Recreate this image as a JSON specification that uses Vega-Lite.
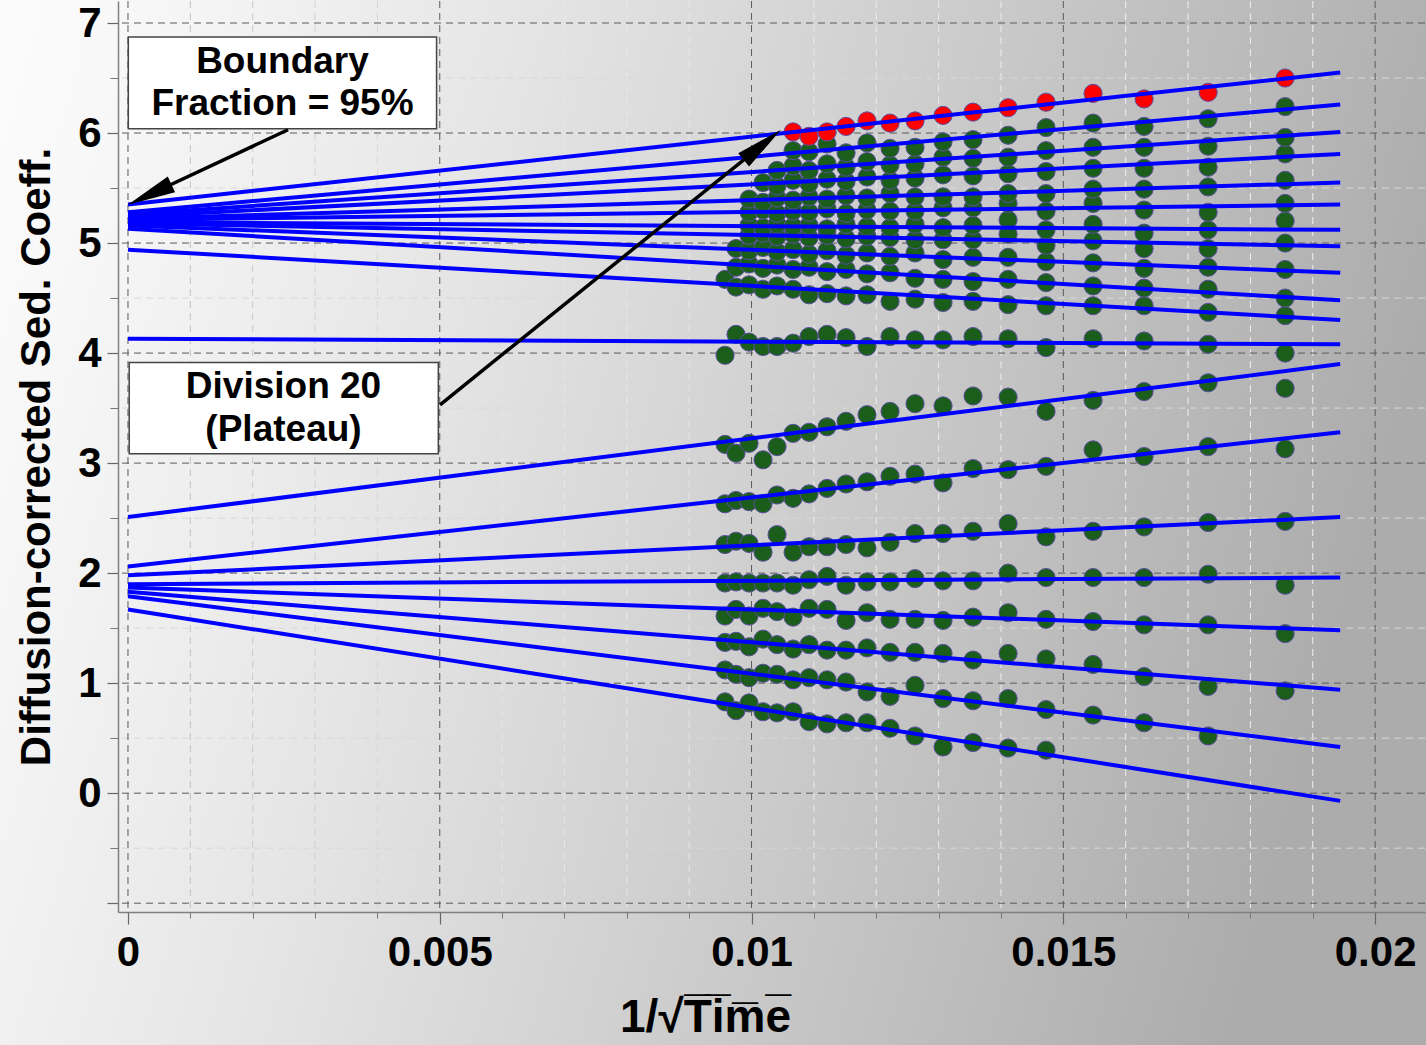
{
  "$schema": "https://vega.github.io/schema/vega-lite/v6.json",
  "width": 1307,
  "height": 911,
  "autosize": {"type": "none"},
  "padding": {"left": 118, "top": 1, "right": 1, "bottom": 133},
  "background": "#e0e0e0",
  "config": {"view": {"stroke": null}, "font": "Liberation Sans"},
  "datasets": {
    "xminor": [{"v":0.001},{"v":0.002},{"v":0.003},{"v":0.004},{"v":0.006},{"v":0.007},{"v":0.008},{"v":0.009},{"v":0.011},{"v":0.012},{"v":0.013},{"v":0.014},{"v":0.016},{"v":0.017},{"v":0.018},{"v":0.019}],
    "xmajor": [{"v":0},{"v":0.005},{"v":0.01},{"v":0.015},{"v":0.02}],
    "yminor": [{"v":-0.5},{"v":0.5},{"v":1.5},{"v":2.5},{"v":3.5},{"v":4.5},{"v":5.5},{"v":6.5}],
    "ymajor": [{"v":-1},{"v":0},{"v":1},{"v":2},{"v":3},{"v":4},{"v":5},{"v":6},{"v":7}],
    "fits": [
      {"d":1,"x":0,"s":1.67},{"d":1,"x":0.01944,"s":-0.07},
      {"d":2,"x":0,"s":1.79},{"d":2,"x":0.01944,"s":0.42},
      {"d":3,"x":0,"s":1.83},{"d":3,"x":0.01944,"s":0.94},
      {"d":4,"x":0,"s":1.87},{"d":4,"x":0.01944,"s":1.48},
      {"d":5,"x":0,"s":1.90},{"d":5,"x":0.01944,"s":1.96},
      {"d":6,"x":0,"s":1.98},{"d":6,"x":0.01944,"s":2.51},
      {"d":7,"x":0,"s":2.06},{"d":7,"x":0.01944,"s":3.28},
      {"d":8,"x":0,"s":2.51},{"d":8,"x":0.01944,"s":3.90},
      {"d":9,"x":0,"s":4.13},{"d":9,"x":0.01944,"s":4.08},
      {"d":10,"x":0,"s":4.94},{"d":10,"x":0.01944,"s":4.30},
      {"d":11,"x":0,"s":5.13},{"d":11,"x":0.01944,"s":4.48},
      {"d":12,"x":0,"s":5.16},{"d":12,"x":0.01944,"s":4.73},
      {"d":13,"x":0,"s":5.18},{"d":13,"x":0.01944,"s":4.97},
      {"d":14,"x":0,"s":5.19},{"d":14,"x":0.01944,"s":5.12},
      {"d":15,"x":0,"s":5.21},{"d":15,"x":0.01944,"s":5.35},
      {"d":16,"x":0,"s":5.22},{"d":16,"x":0.01944,"s":5.55},
      {"d":17,"x":0,"s":5.24},{"d":17,"x":0.01944,"s":5.81},
      {"d":18,"x":0,"s":5.26},{"d":18,"x":0.01944,"s":6.01},
      {"d":19,"x":0,"s":5.28},{"d":19,"x":0.01944,"s":6.26},
      {"d":20,"x":0,"s":5.35},{"d":20,"x":0.01944,"s":6.55}
    ],
    "pts": [
      {"x":0.009575,"s":0.83,"d":1},{"x":0.009751,"s":0.75,"d":1},{"x":0.00996,"s":0.82,"d":1},{"x":0.010184,"s":0.74,"d":1},{"x":0.010409,"s":0.73,"d":1},{"x":0.010666,"s":0.74,"d":1},{"x":0.010922,"s":0.65,"d":1},{"x":0.011211,"s":0.63,"d":1},{"x":0.011516,"s":0.64,"d":1},{"x":0.011852,"s":0.64,"d":1},{"x":0.012221,"s":0.59,"d":1},{"x":0.012622,"s":0.52,"d":1},{"x":0.013071,"s":0.42,"d":1},{"x":0.013552,"s":0.46,"d":1},{"x":0.014114,"s":0.41,"d":1},{"x":0.014723,"s":0.39,"d":1},
      {"x":0.009575,"s":1.12,"d":2},{"x":0.009751,"s":1.08,"d":2},{"x":0.00996,"s":1.05,"d":2},{"x":0.010184,"s":1.09,"d":2},{"x":0.010409,"s":1.08,"d":2},{"x":0.010666,"s":1.03,"d":2},{"x":0.010922,"s":1.05,"d":2},{"x":0.011211,"s":1.03,"d":2},{"x":0.011516,"s":1.01,"d":2},{"x":0.011852,"s":0.92,"d":2},{"x":0.012221,"s":0.88,"d":2},{"x":0.012622,"s":0.98,"d":2},{"x":0.013071,"s":0.86,"d":2},{"x":0.013552,"s":0.84,"d":2},{"x":0.014114,"s":0.86,"d":2},{"x":0.014723,"s":0.76,"d":2},{"x":0.015477,"s":0.71,"d":2},{"x":0.016295,"s":0.64,"d":2},{"x":0.017322,"s":0.52,"d":2},
      {"x":0.009575,"s":1.37,"d":3},{"x":0.009751,"s":1.38,"d":3},{"x":0.00996,"s":1.33,"d":3},{"x":0.010184,"s":1.40,"d":3},{"x":0.010409,"s":1.35,"d":3},{"x":0.010666,"s":1.31,"d":3},{"x":0.010922,"s":1.35,"d":3},{"x":0.011211,"s":1.30,"d":3},{"x":0.011516,"s":1.30,"d":3},{"x":0.011852,"s":1.32,"d":3},{"x":0.012221,"s":1.28,"d":3},{"x":0.012622,"s":1.28,"d":3},{"x":0.013071,"s":1.27,"d":3},{"x":0.013552,"s":1.21,"d":3},{"x":0.014114,"s":1.27,"d":3},{"x":0.014723,"s":1.22,"d":3},{"x":0.015477,"s":1.17,"d":3},{"x":0.016295,"s":1.06,"d":3},{"x":0.017322,"s":0.97,"d":3},{"x":0.018557,"s":0.93,"d":3},
      {"x":0.009575,"s":1.61,"d":4},{"x":0.009751,"s":1.67,"d":4},{"x":0.00996,"s":1.61,"d":4},{"x":0.010184,"s":1.68,"d":4},{"x":0.010409,"s":1.65,"d":4},{"x":0.010666,"s":1.60,"d":4},{"x":0.010922,"s":1.68,"d":4},{"x":0.011211,"s":1.67,"d":4},{"x":0.011516,"s":1.57,"d":4},{"x":0.011852,"s":1.64,"d":4},{"x":0.012221,"s":1.58,"d":4},{"x":0.012622,"s":1.58,"d":4},{"x":0.013071,"s":1.57,"d":4},{"x":0.013552,"s":1.60,"d":4},{"x":0.014114,"s":1.64,"d":4},{"x":0.014723,"s":1.58,"d":4},{"x":0.015477,"s":1.56,"d":4},{"x":0.016295,"s":1.53,"d":4},{"x":0.017322,"s":1.53,"d":4},{"x":0.018557,"s":1.45,"d":4},
      {"x":0.009575,"s":1.91,"d":5},{"x":0.009751,"s":1.92,"d":5},{"x":0.00996,"s":1.91,"d":5},{"x":0.010184,"s":1.91,"d":5},{"x":0.010409,"s":1.91,"d":5},{"x":0.010666,"s":1.89,"d":5},{"x":0.010922,"s":1.94,"d":5},{"x":0.011211,"s":1.97,"d":5},{"x":0.011516,"s":1.89,"d":5},{"x":0.011852,"s":1.92,"d":5},{"x":0.012221,"s":1.92,"d":5},{"x":0.012622,"s":1.95,"d":5},{"x":0.013071,"s":1.93,"d":5},{"x":0.013552,"s":1.93,"d":5},{"x":0.014114,"s":2.00,"d":5},{"x":0.014723,"s":1.96,"d":5},{"x":0.015477,"s":1.96,"d":5},{"x":0.016295,"s":1.96,"d":5},{"x":0.017322,"s":1.99,"d":5},{"x":0.018557,"s":1.89,"d":5},
      {"x":0.009575,"s":2.26,"d":6},{"x":0.009751,"s":2.29,"d":6},{"x":0.00996,"s":2.27,"d":6},{"x":0.010184,"s":2.19,"d":6},{"x":0.010409,"s":2.35,"d":6},{"x":0.010666,"s":2.19,"d":6},{"x":0.010922,"s":2.24,"d":6},{"x":0.011211,"s":2.24,"d":6},{"x":0.011516,"s":2.26,"d":6},{"x":0.011852,"s":2.23,"d":6},{"x":0.012221,"s":2.28,"d":6},{"x":0.012622,"s":2.36,"d":6},{"x":0.013071,"s":2.36,"d":6},{"x":0.013552,"s":2.38,"d":6},{"x":0.014114,"s":2.45,"d":6},{"x":0.014723,"s":2.33,"d":6},{"x":0.015477,"s":2.38,"d":6},{"x":0.016295,"s":2.42,"d":6},{"x":0.017322,"s":2.46,"d":6},{"x":0.018557,"s":2.47,"d":6},
      {"x":0.009575,"s":2.63,"d":7},{"x":0.009751,"s":2.66,"d":7},{"x":0.00996,"s":2.65,"d":7},{"x":0.010184,"s":2.63,"d":7},{"x":0.010409,"s":2.71,"d":7},{"x":0.010666,"s":2.68,"d":7},{"x":0.010922,"s":2.72,"d":7},{"x":0.011211,"s":2.77,"d":7},{"x":0.011516,"s":2.81,"d":7},{"x":0.011852,"s":2.83,"d":7},{"x":0.012221,"s":2.88,"d":7},{"x":0.012622,"s":2.90,"d":7},{"x":0.013071,"s":2.82,"d":7},{"x":0.013552,"s":2.95,"d":7},{"x":0.014114,"s":2.94,"d":7},{"x":0.014723,"s":2.97,"d":7},{"x":0.015477,"s":3.12,"d":7},{"x":0.016295,"s":3.06,"d":7},{"x":0.017322,"s":3.15,"d":7},{"x":0.018557,"s":3.13,"d":7},
      {"x":0.009575,"s":3.17,"d":8},{"x":0.009751,"s":3.09,"d":8},{"x":0.00996,"s":3.18,"d":8},{"x":0.010184,"s":3.03,"d":8},{"x":0.010409,"s":3.15,"d":8},{"x":0.010666,"s":3.27,"d":8},{"x":0.010922,"s":3.28,"d":8},{"x":0.011211,"s":3.33,"d":8},{"x":0.011516,"s":3.38,"d":8},{"x":0.011852,"s":3.44,"d":8},{"x":0.012221,"s":3.47,"d":8},{"x":0.012622,"s":3.54,"d":8},{"x":0.013071,"s":3.52,"d":8},{"x":0.013552,"s":3.61,"d":8},{"x":0.014114,"s":3.60,"d":8},{"x":0.014723,"s":3.47,"d":8},{"x":0.015477,"s":3.57,"d":8},{"x":0.016295,"s":3.65,"d":8},{"x":0.017322,"s":3.73,"d":8},{"x":0.018557,"s":3.68,"d":8},
      {"x":0.009575,"s":3.98,"d":9},{"x":0.009751,"s":4.17,"d":9},{"x":0.00996,"s":4.10,"d":9},{"x":0.010184,"s":4.06,"d":9},{"x":0.010409,"s":4.06,"d":9},{"x":0.010666,"s":4.09,"d":9},{"x":0.010922,"s":4.15,"d":9},{"x":0.011211,"s":4.17,"d":9},{"x":0.011516,"s":4.14,"d":9},{"x":0.011852,"s":4.06,"d":9},{"x":0.012221,"s":4.15,"d":9},{"x":0.012622,"s":4.12,"d":9},{"x":0.013071,"s":4.12,"d":9},{"x":0.013552,"s":4.15,"d":9},{"x":0.014114,"s":4.13,"d":9},{"x":0.014723,"s":4.05,"d":9},{"x":0.015477,"s":4.13,"d":9},{"x":0.016295,"s":4.11,"d":9},{"x":0.017322,"s":4.08,"d":9},{"x":0.018557,"s":4.00,"d":9},
      {"x":0.009575,"s":4.67,"d":10},{"x":0.009751,"s":4.60,"d":10},{"x":0.00996,"s":4.62,"d":10},{"x":0.010184,"s":4.58,"d":10},{"x":0.010409,"s":4.61,"d":10},{"x":0.010666,"s":4.58,"d":10},{"x":0.010922,"s":4.53,"d":10},{"x":0.011211,"s":4.54,"d":10},{"x":0.011516,"s":4.52,"d":10},{"x":0.011852,"s":4.53,"d":10},{"x":0.012221,"s":4.47,"d":10},{"x":0.012622,"s":4.49,"d":10},{"x":0.013071,"s":4.46,"d":10},{"x":0.013552,"s":4.47,"d":10},{"x":0.014114,"s":4.44,"d":10},{"x":0.014723,"s":4.43,"d":10},{"x":0.015477,"s":4.43,"d":10},{"x":0.016295,"s":4.43,"d":10},{"x":0.017322,"s":4.37,"d":10},{"x":0.018557,"s":4.34,"d":10},
      {"x":0.009751,"s":4.78,"d":11},{"x":0.00996,"s":4.81,"d":11},{"x":0.010184,"s":4.77,"d":11},{"x":0.010409,"s":4.80,"d":11},{"x":0.010666,"s":4.76,"d":11},{"x":0.010922,"s":4.78,"d":11},{"x":0.011211,"s":4.74,"d":11},{"x":0.011516,"s":4.76,"d":11},{"x":0.011852,"s":4.72,"d":11},{"x":0.012221,"s":4.73,"d":11},{"x":0.012622,"s":4.68,"d":11},{"x":0.013071,"s":4.67,"d":11},{"x":0.013552,"s":4.65,"d":11},{"x":0.014114,"s":4.67,"d":11},{"x":0.014723,"s":4.64,"d":11},{"x":0.015477,"s":4.61,"d":11},{"x":0.016295,"s":4.59,"d":11},{"x":0.017322,"s":4.58,"d":11},{"x":0.018557,"s":4.50,"d":11},
      {"x":0.009751,"s":4.95,"d":12},{"x":0.00996,"s":4.93,"d":12},{"x":0.010184,"s":4.96,"d":12},{"x":0.010409,"s":4.92,"d":12},{"x":0.010666,"s":4.94,"d":12},{"x":0.010922,"s":4.90,"d":12},{"x":0.011211,"s":4.93,"d":12},{"x":0.011516,"s":4.89,"d":12},{"x":0.011852,"s":4.91,"d":12},{"x":0.012221,"s":4.88,"d":12},{"x":0.012622,"s":4.91,"d":12},{"x":0.013071,"s":4.85,"d":12},{"x":0.013552,"s":4.87,"d":12},{"x":0.014114,"s":4.87,"d":12},{"x":0.014723,"s":4.83,"d":12},{"x":0.015477,"s":4.82,"d":12},{"x":0.016295,"s":4.77,"d":12},{"x":0.017322,"s":4.78,"d":12},{"x":0.018557,"s":4.76,"d":12},
      {"x":0.00996,"s":5.07,"d":13},{"x":0.010184,"s":5.09,"d":13},{"x":0.010409,"s":5.06,"d":13},{"x":0.010666,"s":5.08,"d":13},{"x":0.010922,"s":5.05,"d":13},{"x":0.011211,"s":5.07,"d":13},{"x":0.011516,"s":5.04,"d":13},{"x":0.011852,"s":5.06,"d":13},{"x":0.012221,"s":5.05,"d":13},{"x":0.012622,"s":5.03,"d":13},{"x":0.013071,"s":5.03,"d":13},{"x":0.013552,"s":5.03,"d":13},{"x":0.014114,"s":5.08,"d":13},{"x":0.014723,"s":4.98,"d":13},{"x":0.015477,"s":5.02,"d":13},{"x":0.016295,"s":4.95,"d":13},{"x":0.017322,"s":4.95,"d":13},{"x":0.018557,"s":5.00,"d":13},
      {"x":0.00996,"s":5.16,"d":14},{"x":0.010184,"s":5.14,"d":14},{"x":0.010409,"s":5.17,"d":14},{"x":0.010666,"s":5.15,"d":14},{"x":0.010922,"s":5.16,"d":14},{"x":0.011211,"s":5.13,"d":14},{"x":0.011516,"s":5.17,"d":14},{"x":0.011852,"s":5.15,"d":14},{"x":0.012221,"s":5.14,"d":14},{"x":0.012622,"s":5.17,"d":14},{"x":0.013071,"s":5.14,"d":14},{"x":0.013552,"s":5.16,"d":14},{"x":0.014114,"s":5.21,"d":14},{"x":0.014723,"s":5.12,"d":14},{"x":0.015477,"s":5.17,"d":14},{"x":0.016295,"s":5.09,"d":14},{"x":0.017322,"s":5.12,"d":14},{"x":0.018557,"s":5.20,"d":14},
      {"x":0.00996,"s":5.28,"d":15},{"x":0.010184,"s":5.30,"d":15},{"x":0.010409,"s":5.27,"d":15},{"x":0.010666,"s":5.29,"d":15},{"x":0.010922,"s":5.28,"d":15},{"x":0.011211,"s":5.31,"d":15},{"x":0.011516,"s":5.27,"d":15},{"x":0.011852,"s":5.30,"d":15},{"x":0.012221,"s":5.29,"d":15},{"x":0.012622,"s":5.29,"d":15},{"x":0.013071,"s":5.32,"d":15},{"x":0.013552,"s":5.32,"d":15},{"x":0.014114,"s":5.36,"d":15},{"x":0.014723,"s":5.29,"d":15},{"x":0.015477,"s":5.36,"d":15},{"x":0.016295,"s":5.30,"d":15},{"x":0.017322,"s":5.28,"d":15},{"x":0.018557,"s":5.36,"d":15},
      {"x":0.00996,"s":5.40,"d":16},{"x":0.010184,"s":5.37,"d":16},{"x":0.010409,"s":5.41,"d":16},{"x":0.010666,"s":5.39,"d":16},{"x":0.010922,"s":5.42,"d":16},{"x":0.011211,"s":5.40,"d":16},{"x":0.011516,"s":5.43,"d":16},{"x":0.011852,"s":5.41,"d":16},{"x":0.012221,"s":5.45,"d":16},{"x":0.012622,"s":5.42,"d":16},{"x":0.013071,"s":5.42,"d":16},{"x":0.013552,"s":5.42,"d":16},{"x":0.014114,"s":5.45,"d":16},{"x":0.014723,"s":5.45,"d":16},{"x":0.015477,"s":5.49,"d":16},{"x":0.016295,"s":5.49,"d":16},{"x":0.017322,"s":5.51,"d":16},{"x":0.018557,"s":5.57,"d":16},
      {"x":0.010184,"s":5.55,"d":17},{"x":0.010409,"s":5.52,"d":17},{"x":0.010666,"s":5.57,"d":17},{"x":0.010922,"s":5.54,"d":17},{"x":0.011211,"s":5.58,"d":17},{"x":0.011516,"s":5.56,"d":17},{"x":0.011852,"s":5.60,"d":17},{"x":0.012221,"s":5.57,"d":17},{"x":0.012622,"s":5.59,"d":17},{"x":0.013071,"s":5.62,"d":17},{"x":0.013552,"s":5.61,"d":17},{"x":0.014114,"s":5.63,"d":17},{"x":0.014723,"s":5.65,"d":17},{"x":0.015477,"s":5.68,"d":17},{"x":0.016295,"s":5.68,"d":17},{"x":0.017322,"s":5.69,"d":17},{"x":0.018557,"s":5.81,"d":17},
      {"x":0.010409,"s":5.66,"d":18},{"x":0.010666,"s":5.70,"d":18},{"x":0.010922,"s":5.66,"d":18},{"x":0.011211,"s":5.72,"d":18},{"x":0.011516,"s":5.69,"d":18},{"x":0.011852,"s":5.74,"d":18},{"x":0.012221,"s":5.71,"d":18},{"x":0.012622,"s":5.72,"d":18},{"x":0.013071,"s":5.78,"d":18},{"x":0.013552,"s":5.77,"d":18},{"x":0.014114,"s":5.78,"d":18},{"x":0.014723,"s":5.84,"d":18},{"x":0.015477,"s":5.87,"d":18},{"x":0.016295,"s":5.87,"d":18},{"x":0.017322,"s":5.88,"d":18},{"x":0.018557,"s":5.96,"d":18},
      {"x":0.010666,"s":5.84,"d":19},{"x":0.010922,"s":5.83,"d":19},{"x":0.011211,"s":5.90,"d":19},{"x":0.011516,"s":5.82,"d":19},{"x":0.011852,"s":5.91,"d":19},{"x":0.012221,"s":5.86,"d":19},{"x":0.012622,"s":5.87,"d":19},{"x":0.013071,"s":5.92,"d":19},{"x":0.013552,"s":5.94,"d":19},{"x":0.014114,"s":5.98,"d":19},{"x":0.014723,"s":6.05,"d":19},{"x":0.015477,"s":6.09,"d":19},{"x":0.016295,"s":6.06,"d":19},{"x":0.017322,"s":6.13,"d":19},{"x":0.018557,"s":6.24,"d":19},
      {"x":0.010666,"s":6.01,"d":20},{"x":0.010922,"s":5.97,"d":20},{"x":0.011211,"s":6.01,"d":20},{"x":0.011516,"s":6.06,"d":20},{"x":0.011852,"s":6.11,"d":20},{"x":0.012221,"s":6.09,"d":20},{"x":0.012622,"s":6.11,"d":20},{"x":0.013071,"s":6.16,"d":20},{"x":0.013552,"s":6.19,"d":20},{"x":0.014114,"s":6.23,"d":20},{"x":0.014723,"s":6.28,"d":20},{"x":0.015477,"s":6.36,"d":20},{"x":0.016295,"s":6.31,"d":20},{"x":0.017322,"s":6.37,"d":20},{"x":0.018557,"s":6.50,"d":20}
    ],
    "boxes": [
      {"x":0.000005,"x2":0.004949,"y":6.873,"y2":6.039},
      {"x":0.00002,"x2":0.004977,"y":3.915,"y2":3.085}
    ],
    "labels": [
      {"x":0.002478,"y":6.644,"t":"Boundary"},
      {"x":0.002478,"y":6.267,"t":"Fraction = 95%"},
      {"x":0.002494,"y":3.689,"t":"Division 20"},
      {"x":0.002494,"y":3.298,"t":"(Plateau)"}
    ],
    "arrows": [
      {"x":0.002566,"y":6.03,"x2":0.000348,"y2":5.441,"a":"b"},
      {"x":0.005004,"y":3.53,"x2":0.010173,"y2":5.893,"a":"p"}
    ]
  },
  "layer": [
    {
      "data": {"values": [{}]},
      "mark": {"type": "rect", "fill": {"gradient": "linear", "x1": 0, "y1": 0, "x2": 1, "y2": 0.2, "stops": [
        {"offset": 0, "color": "#fcfcfc"},
        {"offset": 0.09, "color": "#f8f8f8"},
        {"offset": 0.356, "color": "#e5e5e5"},
        {"offset": 0.596, "color": "#d0d0d0"},
        {"offset": 0.752, "color": "#c2c2c2"},
        {"offset": 1, "color": "#acacac"}]}},
      "encoding": {
        "x": {"datum": -0.0022, "type": "quantitative", "scale": {"domain": [-0.00016, 0.0208], "nice": false, "zero": false}, "axis": null},
        "x2": {"datum": 0.0213},
        "y": {"datum": 7.3, "type": "quantitative", "scale": {"domain": [-1.08, 7.2], "nice": false, "zero": false}, "axis": null},
        "y2": {"datum": -2.4}
      }
    },
    {
      "data": {"name": "xminor"},
      "mark": {"type": "rule", "strokeDash": [7, 5], "strokeWidth": 1},
      "encoding": {
        "x": {"field": "v", "type": "quantitative", "scale": {"domain": [-0.00016, 0.0208], "nice": false, "zero": false}, "axis": null},
        "stroke": {"field": "v", "type": "quantitative", "scale": {"domain": [0.001, 0.004, 0.006, 0.019], "range": ["#c2c2c2", "#d6d6d6", "#e6e6e6", "#f0f0f0"]}, "legend": null}
      }
    },
    {
      "data": {"name": "yminor"},
      "mark": {"type": "rule", "strokeDash": [7, 5], "strokeWidth": 1, "color": "#d8d8d8"},
      "encoding": {
        "y": {"field": "v", "type": "quantitative", "scale": {"domain": [-1.08, 7.2], "nice": false, "zero": false}, "axis": null}
      }
    },
    {
      "data": {"name": "xmajor"},
      "mark": {"type": "rule", "strokeDash": [7, 5], "strokeWidth": 1, "color": "#5a5a5a"},
      "encoding": {
        "x": {"field": "v", "type": "quantitative", "scale": {"domain": [-0.00016, 0.0208], "nice": false, "zero": false}, "axis": null}
      }
    },
    {
      "data": {"name": "ymajor"},
      "mark": {"type": "rule", "strokeDash": [7, 5], "strokeWidth": 1, "color": "#5a5a5a"},
      "encoding": {
        "y": {"field": "v", "type": "quantitative", "scale": {"domain": [-1.08, 7.2], "nice": false, "zero": false}, "axis": null}
      }
    },
    {
      "data": {"name": "pts"},
      "mark": {"type": "point", "filled": true, "size": 330, "opacity": 1, "stroke": "#5b4e9e", "strokeWidth": 1},
      "encoding": {
        "x": {"field": "x", "type": "quantitative", "scale": {"domain": [-0.00016, 0.0208], "nice": false, "zero": false},
          "axis": {"orient": "bottom", "values": [0, 0.005, 0.01, 0.015, 0.02], "format": "~g", "grid": false, "domainColor": "#808080", "domainWidth": 1.5, "tickColor": "#666666", "tickSize": 12, "tickWidth": 1.2, "labelFontSize": 42, "labelFontWeight": "bold", "labelColor": "#000000", "labelPadding": 8, "labelFlush": false, "labelOverlap": false, "title": "1/√T̅i̅m̅e̅", "titleFontSize": 46, "titleFontWeight": "bold", "titleColor": "#000000", "titlePadding": 22, "titleX": 587, "zindex": 1}},
        "y": {"field": "s", "type": "quantitative", "scale": {"domain": [-1.08, 7.2], "nice": false, "zero": false},
          "axis": {"orient": "left", "values": [-1, 0, 1, 2, 3, 4, 5, 6, 7], "format": "d", "labelExpr": "datum.value < 0 ? '' : datum.label", "grid": false, "domainColor": "#808080", "domainWidth": 1.5, "tickColor": "#666666", "tickSize": 11, "tickWidth": 1.2, "labelFontSize": 42, "labelFontWeight": "bold", "labelColor": "#000000", "labelPadding": 6, "labelOverlap": false, "title": "Diffusion-corrected Sed. Coeff.", "titleFontSize": 42, "titleFontWeight": "bold", "titleColor": "#000000", "titlePadding": 19, "zindex": 1}},
        "color": {"condition": {"test": "datum.d === 20", "value": "#ff0000"}, "value": "#1b5e1b"}
      }
    },
    {
      "data": {"name": "fits"},
      "mark": {"type": "line", "color": "#0000ff", "strokeWidth": 4},
      "encoding": {
        "x": {"field": "x", "type": "quantitative", "scale": {"domain": [-0.00016, 0.0208], "nice": false, "zero": false},
          "axis": {"orient": "bottom", "values": [0.001, 0.002, 0.003, 0.004, 0.006, 0.007, 0.008, 0.009, 0.011, 0.012, 0.013, 0.014, 0.016, 0.017, 0.018, 0.019], "labels": false, "domain": false, "grid": false, "tickSize": 6, "tickColor": "#777777", "title": null, "zindex": 1}},
        "y": {"field": "s", "type": "quantitative", "scale": {"domain": [-1.08, 7.2], "nice": false, "zero": false},
          "axis": {"orient": "left", "values": [-0.5, 0.5, 1.5, 2.5, 3.5, 4.5, 5.5, 6.5], "labels": false, "domain": false, "grid": false, "tickSize": 8, "tickColor": "#777777", "title": null, "zindex": 1}},
        "detail": {"field": "d", "type": "nominal"}
      }
    },
    {
      "data": {"name": "boxes"},
      "mark": {"type": "rect", "fill": "#ffffff", "stroke": "#444444", "strokeWidth": 1.5},
      "encoding": {
        "x": {"field": "x", "type": "quantitative", "scale": {"domain": [-0.00016, 0.0208], "nice": false, "zero": false}, "axis": null},
        "x2": {"field": "x2"},
        "y": {"field": "y", "type": "quantitative", "scale": {"domain": [-1.08, 7.2], "nice": false, "zero": false}, "axis": null},
        "y2": {"field": "y2"}
      }
    },
    {
      "data": {"name": "labels"},
      "mark": {"type": "text", "fontSize": 37, "fontWeight": "bold", "color": "#000000", "align": "center", "baseline": "middle"},
      "encoding": {
        "x": {"field": "x", "type": "quantitative", "scale": {"domain": [-0.00016, 0.0208], "nice": false, "zero": false}, "axis": null},
        "y": {"field": "y", "type": "quantitative", "scale": {"domain": [-1.08, 7.2], "nice": false, "zero": false}, "axis": null},
        "text": {"field": "t"}
      }
    },
    {
      "data": {"name": "arrows"},
      "mark": {"type": "rule", "color": "#000000", "strokeWidth": 3.5},
      "encoding": {
        "x": {"field": "x", "type": "quantitative", "scale": {"domain": [-0.00016, 0.0208], "nice": false, "zero": false}, "axis": null},
        "y": {"field": "y", "type": "quantitative", "scale": {"domain": [-1.08, 7.2], "nice": false, "zero": false}, "axis": null},
        "x2": {"field": "x2"},
        "y2": {"field": "y2"}
      }
    },
    {
      "data": {"name": "arrows"},
      "mark": {"type": "point", "shape": "M0,-1L0.36,1L-0.36,1Z", "filled": true, "size": 2300, "opacity": 1, "color": "#000000"},
      "encoding": {
        "x": {"field": "x2", "type": "quantitative", "scale": {"domain": [-0.00016, 0.0208], "nice": false, "zero": false}, "axis": null},
        "y": {"field": "y2", "type": "quantitative", "scale": {"domain": [-1.08, 7.2], "nice": false, "zero": false}, "axis": null},
        "angle": {"condition": {"test": "datum.a === 'b'", "value": 245}, "value": 51}
      }
    }
  ],
  "resolve": {"axis": {"x": "independent", "y": "independent"}}
}
